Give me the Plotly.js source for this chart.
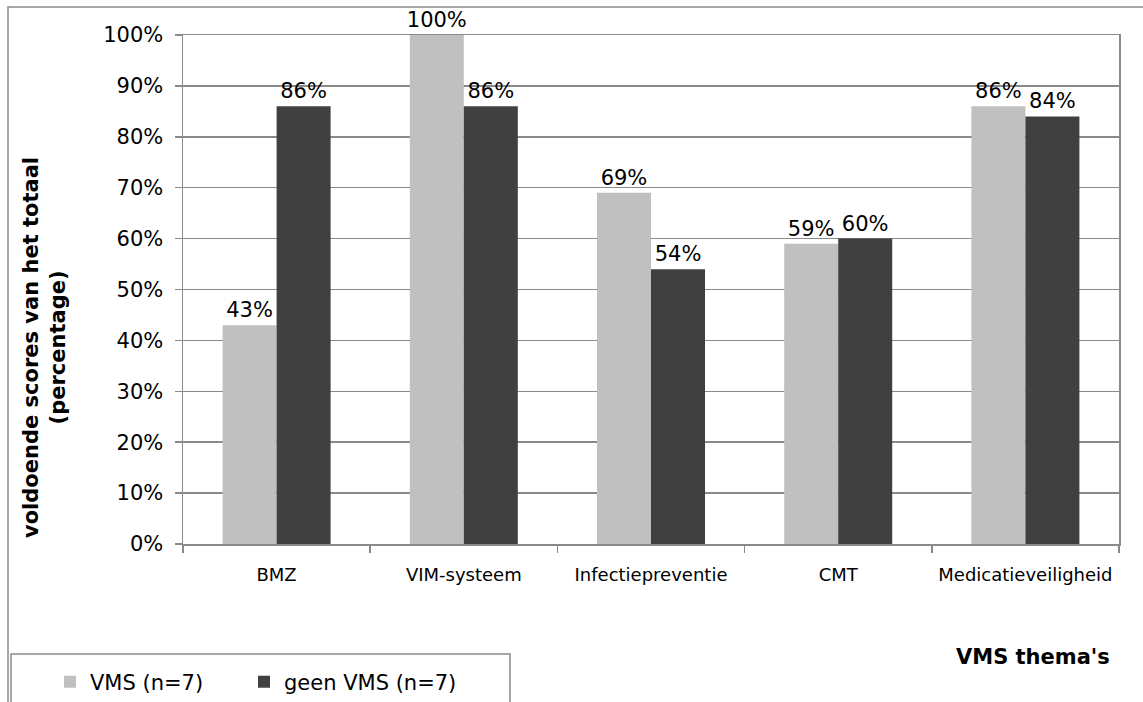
<!DOCTYPE html>
<html>
<head>
<meta charset="utf-8">
<script src="https://cdn.plot.ly/plotly-3.0.1.min.js"></script>
<style>
html,body{margin:0;padding:0;background:#fff;}
#chart{width:1143px;height:702px;}
</style>
</head>
<body>
<div id="chart"></div>
<script>
const categories = ["BMZ", "VIM-systeem", "Infectiepreventie", "CMT", "Medicatieveiligheid"];
const vmsValues = [43, 100, 69, 59, 86];
const geenVmsValues = [86, 86, 54, 60, 84];
const seriesNames = ["VMS (n=7)", "geen VMS (n=7)"];
const yTickValues = [0, 10, 20, 30, 40, 50, 60, 70, 80, 90, 100];
const yTitleText = "voldoende scores van het totaal<br>(percentage)";
const xTitleText = "VMS thema's";

const W = 1143, H = 702;
const L = 183, R = 1119, T = 35, B = 544;
const pw = R - L, ph = B - T;
const px = v => (v - L) / pw;
const py = v => (B - v) / ph;

const gridCol = "#8a8a8a";
const FONT = "DejaVu Sans, Verdana, sans-serif";

const mkTrace = (name, vals, color, legendId) => ({
  type: "bar",
  name: name,
  legend: legendId,
  x: categories,
  y: vals,
  marker: {color: color, line: {width: 0}},
  text: vals.map(v => v + "%"),
  textposition: "outside",
  textfont: {family: FONT, size: 21, color: "#000"},
  constraintext: "none",
  cliponaxis: false,
  hoverinfo: "skip"
});

const data = [
  mkTrace(seriesNames[0], vmsValues, "#c0c0c0", "legend"),
  mkTrace(seriesNames[1], geenVmsValues, "#404040", "legend2")
];

const legendBase = (xPix) => ({
  orientation: "h",
  xref: "container", yref: "container",
  x: xPix / W, xanchor: "left",
  y: 1 - 682 / H, yanchor: "middle",
  font: {family: FONT, size: 21, color: "#000"},
  bgcolor: "rgba(0,0,0,0)",
  borderwidth: 0
});

const layout = {
  width: W, height: H,
  margin: {l: L, r: W - R, t: T, b: H - B, pad: 0, autoexpand: false},
  paper_bgcolor: "#fff",
  plot_bgcolor: "#fff",
  font: {family: FONT, color: "#000"},
  barmode: "group",
  bargap: 0.423,
  bargroupgap: 0,
  showlegend: true,
  legend: legendBase(50),
  legend2: legendBase(244),
  xaxis: {
    type: "category",
    automargin: false,
    showgrid: false,
    showline: true,
    linecolor: gridCol,
    linewidth: 1.5,
    mirror: true,
    ticks: "outside",
    tickson: "boundaries",
    ticklen: 7,
    tickcolor: gridCol,
    tickwidth: 1.5,
    tickfont: {family: FONT, size: 18, color: "#000"},
    ticklabelstandoff: 14,
    zeroline: false
  },
  yaxis: {
    automargin: false,
    range: [0, 100],
    tickvals: yTickValues,
    ticktext: yTickValues.map(v => v + "%"),
    showgrid: true,
    gridcolor: gridCol,
    gridwidth: 1.5,
    showline: true,
    linecolor: gridCol,
    linewidth: 1.5,
    mirror: true,
    ticks: "outside",
    ticklen: 7,
    tickcolor: gridCol,
    tickwidth: 1.5,
    tickfont: {family: FONT, size: 21, color: "#000"},
    ticklabelstandoff: 7,
    zeroline: false
  },
  shapes: [
    {type: "rect", xref: "paper", yref: "paper",
     x0: px(8), x1: px(1160), y0: py(720), y1: py(7),
     line: {color: gridCol, width: 1.5}, fillcolor: "rgba(0,0,0,0)", layer: "below"},
    {type: "rect", xref: "paper", yref: "paper",
     x0: px(11), x1: px(510), y0: py(720), y1: py(654),
     line: {color: gridCol, width: 1.5}, fillcolor: "rgba(0,0,0,0)", layer: "below"}
  ],
  annotations: [
    {text: yTitleText, xref: "paper", yref: "paper",
     x: px(44), y: py(348), xanchor: "center", yanchor: "middle",
     textangle: -90, showarrow: false,
     font: {family: FONT, size: 21, color: "#000", weight: "bold"}},
    {text: "<b>" + xTitleText + "</b>", xref: "paper", yref: "paper",
     x: px(1033), y: py(657), xanchor: "center", yanchor: "middle",
     showarrow: false,
     font: {family: FONT, size: 21, color: "#000"}}
  ]
};

Plotly.newPlot("chart", data, layout, {displayModeBar: false, staticPlot: true});
</script>
</body>
</html>
